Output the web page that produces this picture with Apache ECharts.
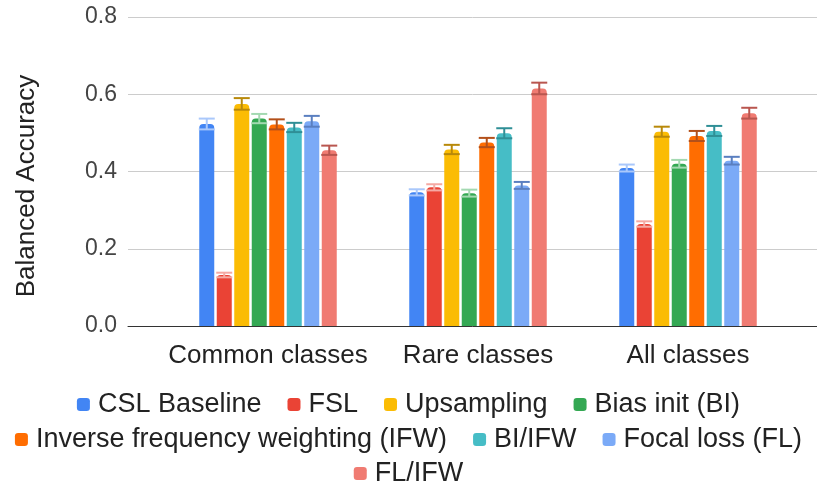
<!DOCTYPE html>
<html><head><meta charset="utf-8">
<script src="https://cdn.jsdelivr.net/npm/echarts@6/dist/echarts.min.js"></script>
<style>html,body{margin:0;padding:0;background:#fff}#c{width:817px;height:487px}</style>
</head><body><div id="c"></div>
<script>
var categories = ['Common classes', 'Rare classes', 'All classes'];
var seriesNames = ['CSL Baseline', 'FSL', 'Upsampling', 'Bias init (BI)', 'Inverse frequency weighting (IFW)', 'BI/IFW', 'Focal loss (FL)', 'FL/IFW'];
var cslBaseline = [0.523, 0.346, 0.409];
var fsl = [0.132, 0.359, 0.264];
var upsampling = [0.575, 0.457, 0.503];
var biasInit = [0.537, 0.344, 0.420];
var ifw = [0.522, 0.475, 0.492];
var biIfw = [0.514, 0.499, 0.505];
var focalLoss = [0.530, 0.364, 0.428];
var flIfw = [0.455, 0.615, 0.551];
var cslErr = [0.014, 0.008, 0.009];
var fslErr = [0.006, 0.008, 0.007];
var upsErr = [0.015, 0.012, 0.013];
var biErr = [0.012, 0.009, 0.010];
var ifwErr = [0.013, 0.012, 0.013];
var biIfwErr = [0.012, 0.013, 0.013];
var flErr = [0.014, 0.009, 0.010];
var flIfwErr = [0.012, 0.015, 0.014];
var yTicks = [0, 0.2, 0.4, 0.6, 0.8];

var values = [cslBaseline, fsl, upsampling, biasInit, ifw, biIfw, focalLoss, flIfw];
var errors = [cslErr, fslErr, upsErr, biErr, ifwErr, biIfwErr, flErr, flIfwErr];
var colors = ['#4285f4', '#ea4335', '#fbbc04', '#34a853', '#ff6d01', '#46bdc6', '#7baaf7', '#f07b72'];
var errColors = ['#aac8fb', '#f5a9a3', '#b8890a', '#a3d9b1', '#b3501a', '#2f8f96', '#5a7fc0', '#b9564f'];

var BAR_W = 15, BAR_GAP = 2.5;
var n = seriesNames.length;

var series = [];
seriesNames.forEach(function (name, i) {
  series.push({
    name: name, type: 'bar', xAxisIndex: 1, yAxisIndex: 1,
    data: values[i], barWidth: BAR_W, barGap: (BAR_GAP / BAR_W * 100) + '%',
    barCategoryGap: '10%',
    itemStyle: { color: colors[i], borderRadius: [4, 4, 0, 0] },
    emphasis: { disabled: true }, z: 2
  });
});
seriesNames.forEach(function (name, i) {
  var d = values[i].map(function (v, k) { return [k, v, errors[i][k]]; });
  series.push({
    type: 'custom', xAxisIndex: 1, yAxisIndex: 1, z: 5, silent: true,
    data: d,
    renderItem: function (params, api) {
      var k = api.value(0), v = api.value(1), e = api.value(2);
      var base = api.coord([k, v]);
      var total = n * BAR_W + (n - 1) * BAR_GAP;
      var x = base[0] - total / 2 + BAR_W / 2 + i * (BAR_W + BAR_GAP);
      var yTop = api.coord([k, v + e])[1];
      var yBot = api.coord([k, v - e])[1];
      var hw = 8;
      var st = { stroke: errColors[i], lineWidth: 2 };
      return {
        type: 'group',
        children: [
          { type: 'line', shape: { x1: x, y1: yTop, x2: x, y2: yBot }, style: st },
          { type: 'line', shape: { x1: x - hw, y1: yTop, x2: x + hw, y2: yTop }, style: st },
          { type: 'line', shape: { x1: x - hw, y1: yBot, x2: x + hw, y2: yBot }, style: st }
        ]
      };
    }
  });
});

function legendRow(items, top) {
  return {
    data: items.map(function (nm) { return { name: nm, icon: 'roundRect' }; }),
    top: top, left: 'center', itemWidth: 13, itemHeight: 13, itemGap: 26,
    selectedMode: false,
    textStyle: { fontSize: 27, color: '#222', padding: [0, 0, 0, 3],
      fontFamily: 'Liberation Sans, Arial, sans-serif' }
  };
}

var option = {
  animation: false,
  backgroundColor: '#fff',
  textStyle: { fontFamily: 'Liberation Sans, Arial, sans-serif' },
  grid: [
    { left: 128, right: 0, top: 17, bottom: 161 },
    { left: 163, right: 24, top: 17, bottom: 161 }
  ],
  legend: [
    legendRow(seriesNames.slice(0, 4), 386),
    legendRow(seriesNames.slice(4, 7), 421),
    legendRow(seriesNames.slice(7), 455)
  ],
  xAxis: [
    { type: 'category', gridIndex: 0, data: [''], axisTick: { show: false }, axisLabel: { show: false },
      axisLine: { lineStyle: { color: '#333', width: 1 } }, z: 10 },
    { type: 'category', gridIndex: 1, data: categories, axisTick: { show: false },
      axisLine: { show: false },
      axisLabel: { fontSize: 26, color: '#222', margin: 17, interval: 0 } }
  ],
  yAxis: [
    { type: 'value', gridIndex: 0, min: 0, max: 0.8, interval: 0.2,
      name: 'Balanced Accuracy', nameLocation: 'middle', nameRotate: 90, nameGap: 88,
      nameTextStyle: { fontSize: 26, color: '#222', padding: [0, 29, 0, 0] },
      axisLine: { show: false }, axisTick: { show: false },
      axisLabel: { fontSize: 23, color: '#444', margin: 11, padding: [5, 0, 0, 0],
        formatter: function (v) { return v.toFixed(1); } },
      splitLine: { lineStyle: { color: '#cccccc', width: 1 } } },
    { type: 'value', gridIndex: 1, min: 0, max: 0.8, interval: 0.2, show: false,
      splitLine: { show: false } }
  ],
  series: series
};
var chart = echarts.init(document.getElementById('c'), null, { renderer: 'canvas' });
chart.setOption(option);
</script></body></html>
